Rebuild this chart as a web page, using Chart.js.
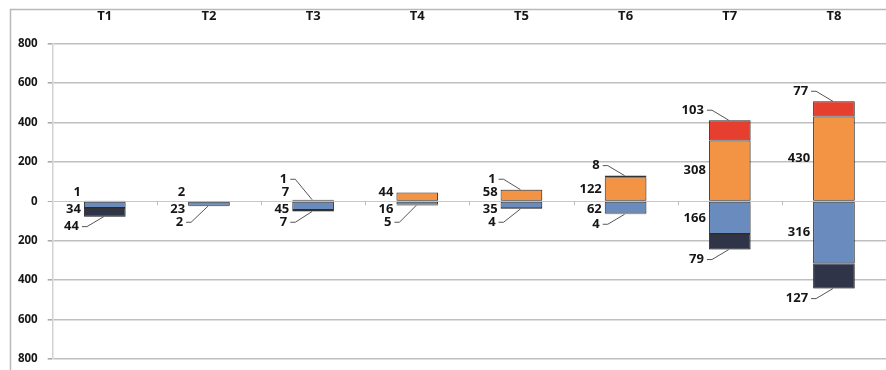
<!DOCTYPE html>
<html>
<head>
<meta charset="utf-8">
<title>T1-T8 stacked bars</title>
<script src="https://cdn.jsdelivr.net/npm/chart.js@4.4.1/dist/chart.umd.min.js"></script>
<style>
  html, body { margin: 0; padding: 0; background: #fff; }
  #wrap { width: 886px; height: 370px; }
</style>
</head>
<body>
<div id="wrap"><canvas id="chart" width="886" height="370"></canvas></div>
<script>
// Chart data
const categories = ['T1', 'T2', 'T3', 'T4', 'T5', 'T6', 'T7', 'T8'];
const orangeValues = [1, 2, 7, 44, 58, 122, 308, 430];   // positive, next to zero
const redValues = [0, 0, 1, 0, 1, 8, 103, 77];           // positive, on top
const blueValues = [34, 23, 45, 16, 35, 62, 166, 316];   // negative, next to zero
const navyValues = [44, 2, 7, 5, 4, 4, 79, 127];         // negative, at the bottom
const yTicks = [-800, -600, -400, -200, 0, 200, 400, 600, 800];

const COLORS = {
  orange: '#F39444',
  red: '#E63F30',
  blue: '#6A8BBE',
  navy: '#2F3449',
  text: '#161616',
  grid: '#bfbfbf',
  frame: '#b9b9b9'
};

const FONT = '"Open Sans", Lato, sans-serif';
Chart.defaults.font.family = FONT;
Chart.defaults.font.weight = 'bold';
Chart.defaults.font.size = 12;
Chart.defaults.color = COLORS.text;

// zero values are left out so no empty bar outline is drawn
const nz = arr => arr.map(v => (v === 0 ? null : v));
const neg = arr => arr.map(v => (v === 0 ? null : -v));

// white background plus the light frame round the chart
const framePlugin = {
  id: 'frame',
  beforeDraw(chart) {
    const ctx = chart.ctx;
    ctx.save();
    ctx.fillStyle = '#fff';
    ctx.fillRect(0, 0, chart.width, chart.height);
    ctx.strokeStyle = COLORS.frame;
    ctx.lineWidth = 1.5;
    ctx.beginPath();
    ctx.moveTo(10.5, chart.height);
    ctx.lineTo(10.5, 9.5);
    ctx.lineTo(chart.width, 9.5);
    ctx.stroke();
    ctx.restore();
  },
  // little category ticks hanging under the zero line
  beforeDatasetsDraw(chart) {
    const ctx = chart.ctx;
    const x = chart.scales.x;
    const y0 = chart.scales.y.getPixelForValue(0);
    const step = (x.right - x.left) / categories.length;
    ctx.save();
    ctx.strokeStyle = '#bdbdbd';
    ctx.lineWidth = 1;
    for (let i = 1; i < categories.length; i++) {
      const px = Math.round(x.getPixelForTick(i) - step / 2) + 0.5;
      ctx.beginPath();
      ctx.moveTo(px, y0);
      ctx.lineTo(px, y0 + 4);
      ctx.stroke();
    }
    ctx.restore();
  }
};

// soft drop shadow under every bar segment
const shadowPlugin = {
  id: 'barShadow',
  beforeDatasetDraw(chart) {
    const ctx = chart.ctx;
    ctx.save();
    ctx.shadowColor = 'rgba(0,0,0,0.2)';
    ctx.shadowBlur = 2;
    ctx.shadowOffsetX = 1;
    ctx.shadowOffsetY = 1;
  },
  afterDatasetDraw(chart) {
    chart.ctx.restore();
  }
};

// value labels to the left of each bar, outer ones with leader lines
const labelPlugin = {
  id: 'valueLabels',
  afterDatasetsDraw(chart) {
    const ctx = chart.ctx;
    const y0 = chart.scales.y.getPixelForValue(0);
    const metas = [0, 1, 2, 3].map(i => chart.getDatasetMeta(i).data);
    ctx.save();
    ctx.font = 'bold 13px ' + FONT;
    ctx.fillStyle = COLORS.text;
    ctx.textAlign = 'right';
    ctx.textBaseline = 'middle';
    ctx.strokeStyle = '#555';
    ctx.lineWidth = 1;

    const drawLeader = (textRight, ly, tx, ty) => {
      ctx.beginPath();
      ctx.moveTo(textRight + 3, ly);
      ctx.lineTo(textRight + 8, ly);
      ctx.lineTo(tx, ty);
      ctx.stroke();
    };

    categories.forEach((cat, i) => {
      const ref = metas[0][i];
      const barLeft = ref.x - ref.width / 2;
      const cx = ref.x;
      const labelRight = barLeft - 3;

      // positive side
      const oEl = metas[0][i];
      const oY = Math.min((oEl.y + oEl.base) / 2, y0 - 9);
      if (orangeValues[i]) ctx.fillText(String(orangeValues[i]), labelRight, oY);
      if (redValues[i]) {
        const rEl = metas[1][i];
        const ry = Math.min(rEl.y - 10, oY - 13);
        const right = barLeft - 5;
        ctx.fillText(String(redValues[i]), right, ry);
        drawLeader(right, ry, cx - 1, rEl.y);
      }

      // negative side
      const bEl = metas[2][i];
      const bY = Math.max((bEl.y + bEl.base) / 2, y0 + 8);
      if (blueValues[i]) ctx.fillText(String(blueValues[i]), labelRight, bY);
      if (navyValues[i]) {
        const nEl = metas[3][i];
        const ny = Math.max(nEl.y + 10, bY + 13);
        const right = barLeft - 5;
        ctx.fillText(String(navyValues[i]), right, ny);
        drawLeader(right, ny, cx - 1, nEl.y);
      }
    });
    ctx.restore();
  }
};

const commonBar = {
  borderColor: '#333333',
  borderWidth: 1,
  borderSkipped: false,
  barPercentage: 0.4,
  categoryPercentage: 1.0
};

new Chart(document.getElementById('chart'), {
  type: 'bar',
  data: {
    labels: categories,
    datasets: [
      Object.assign({ label: 'orange', data: nz(orangeValues), backgroundColor: COLORS.orange }, commonBar),
      Object.assign({ label: 'red', data: nz(redValues), backgroundColor: COLORS.red }, commonBar),
      Object.assign({ label: 'blue', data: neg(blueValues), backgroundColor: COLORS.blue }, commonBar),
      Object.assign({ label: 'navy', data: neg(navyValues), backgroundColor: COLORS.navy }, commonBar)
    ]
  },
  options: {
    responsive: false,
    animation: false,
    layout: { padding: { top: 10, right: 0, bottom: 11, left: 0 } },
    plugins: {
      legend: { display: false },
      tooltip: { enabled: false }
    },
    scales: {
      x: {
        position: 'top',
        stacked: true,
        grid: { display: false },
        border: { display: false },
        ticks: { padding: 11, color: COLORS.text, font: { size: 13, weight: 'bold' } },
        afterFit(scale) { scale.height = 33.5; }
      },
      y: {
        stacked: true,
        min: -800,
        max: 800,
        afterBuildTicks(scale) { scale.ticks = yTicks.map(v => ({ value: v })); },
        ticks: {
          padding: 10,
          color: COLORS.text,
          font: { size: 11.5, weight: 'bold' },
          callback: v => String(Math.abs(v))
        },
        grid: {
          color: ctx => (ctx.tick && ctx.tick.value === 0 ? '#c8c8c8' : COLORS.grid),
          lineWidth: ctx => (ctx.tick && ctx.tick.value === 0 ? 1 : 1.6),
          tickLength: 5,
          tickColor: '#aaaaaa'
        },
        border: { color: '#d2d2d2', width: 1.5 },
        afterFit(scale) {
          scale.width = 52.7;
          scale.paddingTop = 0;
          scale.paddingBottom = 0;
        }
      }
    }
  },
  plugins: [framePlugin, shadowPlugin, labelPlugin]
});
</script>
</body>
</html>
